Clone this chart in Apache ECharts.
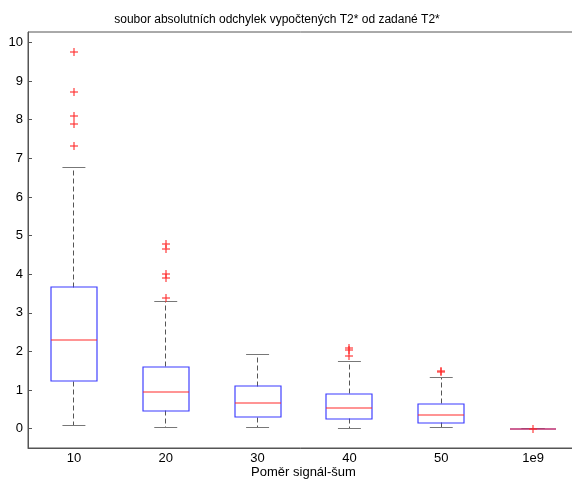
<!DOCTYPE html>
<html>
<head>
<meta charset="utf-8">
<script src="https://cdn.jsdelivr.net/npm/echarts@6/dist/echarts.min.js"></script>
<style>html,body{margin:0;padding:0;background:#fff}#c{width:572px;height:482px}</style>
</head>
<body>
<div id="c"></div>
<script>
var categories = ['10', '20', '30', '40', '50', '1e9'];
var lowerWhisker = [0.08, 0.03, 0.03, 0.00, 0.02, 0];
var q1 = [1.23, 0.46, 0.29, 0.26, 0.155, 0];
var median = [2.30, 0.95, 0.67, 0.53, 0.35, 0];
var q3 = [3.66, 1.60, 1.10, 0.90, 0.64, 0];
var upperWhisker = [6.76, 3.30, 1.91, 1.75, 1.33, 0];
var outliers10 = [9.76, 8.71, 8.09, 7.90, 7.33];
var outliers20 = [4.79, 4.65, 4.01, 3.90, 3.38];
var outliers30 = [];
var outliers40 = [2.10, 2.05, 1.89];
var outliers50 = [1.50, 1.47];
var outliers1e9 = [0];
var yTicks = [0, 1, 2, 3, 4, 5, 6, 7, 8, 9, 10];

var allOutliers = [outliers10, outliers20, outliers30, outliers40, outliers50, outliers1e9];
var boxData = categories.map(function (c, i) {
  return [i, lowerWhisker[i], q1[i], median[i], q3[i], upperWhisker[i]];
});
var outlierData = [];
allOutliers.forEach(function (arr, i) {
  arr.forEach(function (v) { outlierData.push([i, v]); });
});

function crisp(v) { return Math.round(v - 0.5) + 0.5; }
function whole(v) { return Math.round(v); }
function dashStyle() { return {fill: null, stroke: '#555555', lineWidth: 1, lineDash: [5, 3]}; }
function capStyle() { return {fill: null, stroke: '#777777', lineWidth: 1}; }
function boxStyle() { return {fill: null, stroke: '#3a3aff', lineWidth: 1.15}; }
function medStyle() { return {fill: null, stroke: '#ff2a2a', lineWidth: 1.15}; }
function outStyle() { return {fill: null, stroke: '#ff2a2a', lineWidth: 1.1}; }

var FONT = 'Liberation Sans, Arial, sans-serif';
var chart = echarts.init(document.getElementById('c'), null, {renderer: 'canvas'});
chart.setOption({
  animation: false,
  color: ['#4444ff'],
  graphic: [{
    type: 'text', silent: true,
    style: {text: 'soubor absolutních odchylek vypočtených T2* od zadané T2*',
      x: 277, y: 20, textAlign: 'center', textVerticalAlign: 'middle',
      font: '12px "Liberation Sans", Arial, sans-serif', fill: '#000'}
  }],
  grid: {left: 28, top: 32, right: -7, bottom: 34, outerBoundsMode: 'none', containLabel: false,
    show: true, borderColor: '#555', borderWidth: 1, backgroundColor: 'transparent'},
  xAxis: {
    type: 'category', data: categories,
    axisLine: {show: true, onZero: false, lineStyle: {color: '#555', width: 1}},
    axisTick: {show: false},
    axisLabel: {color: '#000', fontSize: 13, fontFamily: FONT, margin: 4},
    name: 'Poměr signál-šum', nameLocation: 'middle', nameGap: 18, nameMoveOverlap: false,
    nameTextStyle: {color: '#000', fontSize: 13, fontFamily: FONT},
    splitLine: {show: false}
  },
  yAxis: {
    type: 'value', min: -0.5, max: 10.27,
    axisLine: {show: true, lineStyle: {color: '#555', width: 1}},
    axisTick: {show: true, inside: true, length: 4, lineStyle: {color: '#555'}, customValues: yTicks},
    axisLabel: {color: '#000', fontSize: 13, fontFamily: FONT, margin: 5, customValues: yTicks},
    splitLine: {show: false}
  },
  series: [{
    type: 'custom',
    colorBy: 'series',
    silent: true,
    data: boxData,
    clip: false,
    renderItem: function (params, api) {
      var idx = api.value(0);
      var band = api.size([1, 0])[0];
      var cx = api.coord([idx, 0])[0];
      var yLW = api.coord([idx, api.value(1)])[1];
      var yQ1 = api.coord([idx, api.value(2)])[1];
      var yMed = api.coord([idx, api.value(3)])[1];
      var yQ3 = api.coord([idx, api.value(4)])[1];
      var yUW = api.coord([idx, api.value(5)])[1];
      var bw = band * 0.5, cw = band * 0.25;
      var x = crisp(cx);
      var bl = whole(cx - bw / 2), br = whole(cx + bw / 2);
      return {
        type: 'group',
        children: [
          {type: 'line', shape: {x1: x, y1: crisp(yQ3), x2: x, y2: crisp(yUW)}, style: dashStyle()},
          {type: 'line', shape: {x1: x, y1: crisp(yQ1), x2: x, y2: crisp(yLW)}, style: dashStyle()},
          {type: 'line', shape: {x1: cx - cw / 2, y1: crisp(yUW), x2: cx + cw / 2, y2: crisp(yUW)}, style: capStyle()},
          {type: 'line', shape: {x1: cx - cw / 2, y1: crisp(yLW), x2: cx + cw / 2, y2: crisp(yLW)}, style: capStyle()},
          {type: 'rect', shape: {x: bl, y: whole(yQ3), width: br - bl, height: whole(yQ1) - whole(yQ3)}, style: boxStyle()},
          {type: 'line', shape: {x1: bl, y1: whole(yMed), x2: br, y2: whole(yMed)}, style: medStyle()}
        ]
      };
    }
  }, {
    type: 'custom',
    colorBy: 'series',
    silent: true,
    data: outlierData,
    clip: false,
    renderItem: function (params, api) {
      var p = api.coord([api.value(0), api.value(1)]);
      var x = whole(p[0]), y = whole(p[1]);
      return {
        type: 'group',
        children: [
          {type: 'line', shape: {x1: x - 4, y1: y, x2: x + 4, y2: y}, style: outStyle()},
          {type: 'line', shape: {x1: x, y1: y - 4, x2: x, y2: y + 4}, style: outStyle()}
        ]
      };
    }
  }]
});
</script>
</body>
</html>
